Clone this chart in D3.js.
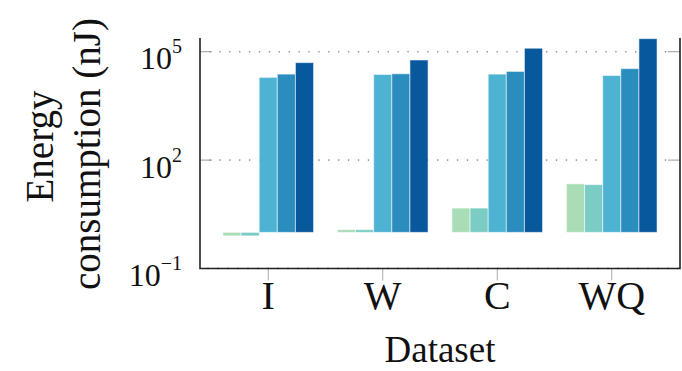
<!DOCTYPE html>
<html>
<head>
<meta charset="utf-8">
<script src="https://cdn.jsdelivr.net/npm/d3@7"></script>
<style>
  body { margin: 0; background: #fff; }
  svg { display: block; }
</style>
</head>
<body>
<svg id="chart"></svg>
<script>
// datasets on the x axis
const datasets = ["I", "W", "C", "WQ"];
// five bar series per dataset (energy in nJ)
const seriesNames = ["s1", "s2", "s3", "s4", "s5"];
const seriesColors = ["#a8ddb5", "#7bccc4", "#4eb3d3", "#2b8cbe", "#08589e"];
const s1 = [0.8, 1.19, 4.7, 22];
const s2 = [0.8, 1.19, 4.7, 21];
const s3 = [1.95e4, 2.35e4, 2.4e4, 2.2e4];
const s4 = [2.4e4, 2.45e4, 2.85e4, 3.4e4];
const s5 = [5.0e4, 5.9e4, 1.25e5, 2.3e5];
const yTickExps = [-1, 2, 5];

const svg_width = 682, svg_height = 371;
const svg = d3.select("#chart")
  .attr("width", svg_width)
  .attr("height", svg_height);

const plot = {left: 200, right: 680, top: 38, bottom: 268.5};
const serif = "'Liberation Serif', 'Times New Roman', serif";

const allSeries = [s1, s2, s3, s4, s5];
const rows = datasets.map((d, i) => ({
  name: d,
  vals: allSeries.map((s, k) => ({key: seriesNames[k], v: s[i]}))
}));

// scales
const x0 = d3.scaleBand()
  .domain(datasets)
  .range([211, 669]);
const x1 = d3.scaleBand()
  .domain(seriesNames)
  .range([-45.3, 45.3]);
const color = d3.scaleOrdinal().domain(seriesNames).range(seriesColors);

const yScale = d3.scaleLog()
  .domain([0.1, Math.pow(10, 5.38)])
  .range([plot.bottom, plot.top]);
const base = yScale(1);

// dotted grid lines
svg.append("g")
  .selectAll("line")
  .data(yTickExps.filter(e => e > -1))
  .enter()
  .append("line")
    .attr("x1", plot.left + 10)
    .attr("x2", plot.right - 10)
    .attr("y1", e => yScale(Math.pow(10, e)))
    .attr("y2", e => yScale(Math.pow(10, e)))
    .style("stroke", "#8a8a8a")
    .style("stroke-width", 1.6)
    .style("stroke-linecap", "round")
    .style("stroke-dasharray", "0.1,9.8");

// y ticks (inside, left and right)
const yt = svg.append("g");
yTickExps.filter(e => e > -1).forEach(e => {
  const y = yScale(Math.pow(10, e));
  yt.append("line").attr("x1", plot.left).attr("x2", plot.left + 12)
    .attr("y1", y).attr("y2", y)
    .style("stroke", "#999").style("stroke-width", 1);
  yt.append("line").attr("x1", plot.right - 12).attr("x2", plot.right)
    .attr("y1", y).attr("y2", y)
    .style("stroke", "#999").style("stroke-width", 1);
});

// bars
const groups = svg.append("g")
  .selectAll("g")
  .data(rows)
  .enter()
  .append("g")
    .attr("transform", d => `translate(${x0(d.name) + x0.bandwidth() / 2},0)`);

groups.selectAll("rect")
  .data(d => d.vals)
  .enter()
  .append("rect")
    .attr("x", d => x1(d.key))
    .attr("width", x1.bandwidth())
    .attr("y", d => Math.min(yScale(d.v), base))
    .attr("height", d => Math.abs(base - yScale(d.v)))
    .style("fill", d => color(d.key))
    .style("stroke", "#ffffff")
    .style("stroke-opacity", 0.55)
    .style("stroke-width", 1);

// x ticks below axis
svg.append("g")
  .selectAll("line")
  .data(datasets)
  .enter()
  .append("line")
    .attr("x1", d => x0(d) + x0.bandwidth() / 2)
    .attr("x2", d => x0(d) + x0.bandwidth() / 2)
    .attr("y1", plot.bottom)
    .attr("y2", plot.bottom + 12)
    .style("stroke", "#aaa")
    .style("stroke-width", 1);

// small marks along the bottom axis line
svg.append("g")
  .selectAll("line")
  .data(d3.range(plot.left + 8, plot.right, 10))
  .enter()
  .append("line")
    .attr("x1", d => d).attr("x2", d => d)
    .attr("y1", plot.bottom - 1.5).attr("y2", plot.bottom + 1)
    .style("stroke", "#888")
    .style("stroke-width", 0.7);

// axis frame: left, bottom, right (no top)
svg.append("path")
  .attr("d", `M${plot.left},${plot.top}V${plot.bottom}H${plot.right}V${plot.top}`)
  .style("fill", "none")
  .style("stroke", "#222")
  .style("stroke-width", 1.6);

// y tick labels 10^e
const ylab = svg.append("g");
yTickExps.forEach(e => {
  const y = yScale(Math.pow(10, e));
  const t = ylab.append("text")
    .attr("x", 182)
    .attr("y", y + 17.5)
    .attr("text-anchor", "end")
    .style("font-family", serif)
    .style("font-size", "32px")
    .style("fill", "#111");
  t.append("tspan").text("10");
  t.append("tspan")
    .attr("dy", -16)
    .style("font-size", "20px")
    .text(e < 0 ? "\u2212" + Math.abs(e) : String(e));
});

// x tick labels
svg.append("g")
  .selectAll("text")
  .data(datasets)
  .enter()
  .append("text")
    .attr("x", d => x0(d) + x0.bandwidth() / 2)
    .attr("y", 309)
    .attr("text-anchor", "middle")
    .style("font-family", serif)
    .style("font-size", "40px")
    .style("fill", "#111")
    .text(d => d);

// axis titles
svg.append("text")
  .attr("x", (plot.left + plot.right) / 2)
  .attr("y", 362)
  .attr("text-anchor", "middle")
  .style("font-family", serif)
  .style("font-size", "37px")
  .style("fill", "#111")
  .text("Dataset");

svg.append("text")
  .attr("transform", "translate(53,146.5) rotate(-90)")
  .attr("text-anchor", "middle")
  .style("font-family", serif)
  .style("font-size", "39px")
  .style("fill", "#111")
  .text("Energy");

svg.append("text")
  .attr("transform", "translate(100,154) rotate(-90)")
  .attr("text-anchor", "middle")
  .style("font-family", serif)
  .style("font-size", "39px")
  .style("fill", "#111")
  .text("consumption (nJ)");
</script>
</body>
</html>
